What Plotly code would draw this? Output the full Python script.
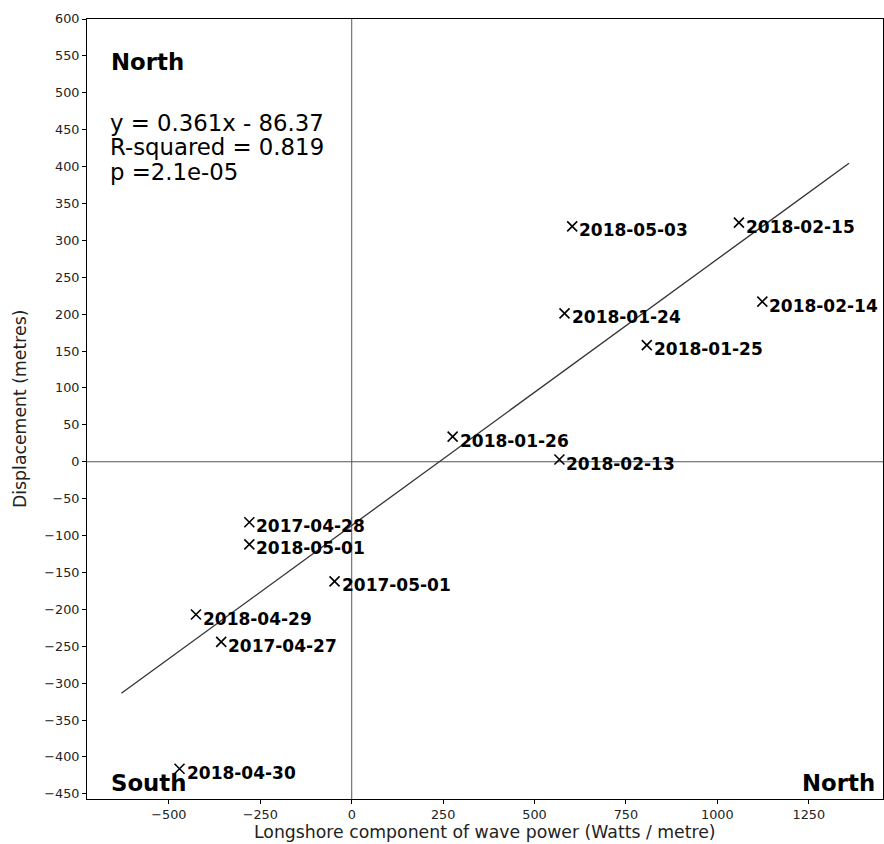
import plotly.graph_objects as go

# Data
dates = ["2018-05-03", "2018-02-15", "2018-01-24", "2018-01-25", "2018-02-14",
         "2018-01-26", "2018-02-13", "2017-04-28", "2018-05-01", "2017-05-01",
         "2018-04-29", "2017-04-27", "2018-04-30"]
wave_power = [603, 1059, 582, 807, 1123, 276, 568, -280, -280, -47, -426, -357, -471]
displacement = [319, 324, 201, 158, 217, 34, 3, -82, -112, -162, -207, -244, -416]

slope = 0.361
intercept = -86.37
fit_x = [-630, 1360]
eq_lines = ["y = 0.361x - 86.37", "R-squared = 0.819", "p =2.1e-05"]

x_range = [-724, 1453]
y_range = [-457, 600]
x_ticks = list(range(-500, 1251, 250))
y_ticks = list(range(-450, 601, 50))

FONT = "DejaVu Sans"
W, H = 884, 844
ML, MR, MT, MB = 87, 1, 19, 45
PW, PH = W - ML - MR, H - MT - MB

def px_x(p):
    return (p - ML) / PW

def px_y(p):
    return (H - MB - p) / PH

fig = go.Figure()

# zero lines
fig.add_trace(go.Scatter(x=[0, 0], y=y_range, mode="lines",
                         line=dict(color="#555555", width=1), hoverinfo="skip", showlegend=False))
fig.add_trace(go.Scatter(x=x_range, y=[0, 0], mode="lines",
                         line=dict(color="#555555", width=1), hoverinfo="skip", showlegend=False))

# regression line
fit_y = [slope * v + intercept for v in fit_x]
fig.add_trace(go.Scatter(x=fit_x, y=fit_y, mode="lines",
                         line=dict(color="#333333", width=1.3), showlegend=False))

# points
fig.add_trace(go.Scatter(x=wave_power, y=displacement, mode="markers",
                         marker=dict(symbol="x-thin", size=10, line=dict(color="black", width=1.6)),
                         showlegend=False))

annotations = []
for d, xv, yv in zip(dates, wave_power, displacement):
    annotations.append(dict(x=xv, y=yv, xref="x", yref="y", text=d, showarrow=False,
                            xanchor="left", yanchor="middle", xshift=5, yshift=-4,
                            font=dict(family=FONT, size=17, color="black", weight="bold")))

# corner labels
BIG = 22.8
annotations.append(dict(x=px_x(109), y=px_y(62), xref="paper", yref="paper", text="North",
                        showarrow=False, xanchor="left", yanchor="middle",
                        font=dict(family=FONT, size=BIG, color="black", weight="bold")))
annotations.append(dict(x=px_x(109), y=px_y(783), xref="paper", yref="paper", text="South",
                        showarrow=False, xanchor="left", yanchor="middle",
                        font=dict(family=FONT, size=BIG, color="black", weight="bold")))
annotations.append(dict(x=px_x(877), y=px_y(783), xref="paper", yref="paper", text="North",
                        showarrow=False, xanchor="right", yanchor="middle",
                        font=dict(family=FONT, size=BIG, color="black", weight="bold")))
for i, line in enumerate(eq_lines):
    annotations.append(dict(x=px_x(108), y=px_y(123 + 24.5 * i), xref="paper", yref="paper",
                            text=line, showarrow=False, xanchor="left", yanchor="middle",
                            font=dict(family=FONT, size=BIG, color="black")))

# axis titles
annotations.append(dict(x=0.5, y=px_y(832), xref="paper", yref="paper",
                        text="Longshore component of wave power (Watts / metre)",
                        showarrow=False, xanchor="center", yanchor="middle",
                        font=dict(family=FONT, size=17.3, color="#222222")))
annotations.append(dict(x=px_x(20), y=0.5, xref="paper", yref="paper",
                        text="Displacement (metres)", textangle=-90,
                        showarrow=False, xanchor="center", yanchor="middle",
                        font=dict(family=FONT, size=17.3, color="#222222")))

axis_common = dict(showgrid=False, zeroline=False, showline=True, linecolor="black",
                   linewidth=1, mirror=True, ticks="outside", ticklen=4, tickwidth=1,
                   tickcolor="black", tickfont=dict(family=FONT, size=12.8, color="#222222"))

fig.update_layout(
    width=W, height=H,
    margin=dict(l=ML, r=MR, t=MT, b=MB, autoexpand=False),
    plot_bgcolor="white", paper_bgcolor="white",
    xaxis=dict(range=x_range, tickvals=x_ticks, **axis_common),
    yaxis=dict(range=y_range, tickvals=y_ticks, **axis_common),
    annotations=annotations,
    showlegend=False,
)

fig.write_html("out.html")
